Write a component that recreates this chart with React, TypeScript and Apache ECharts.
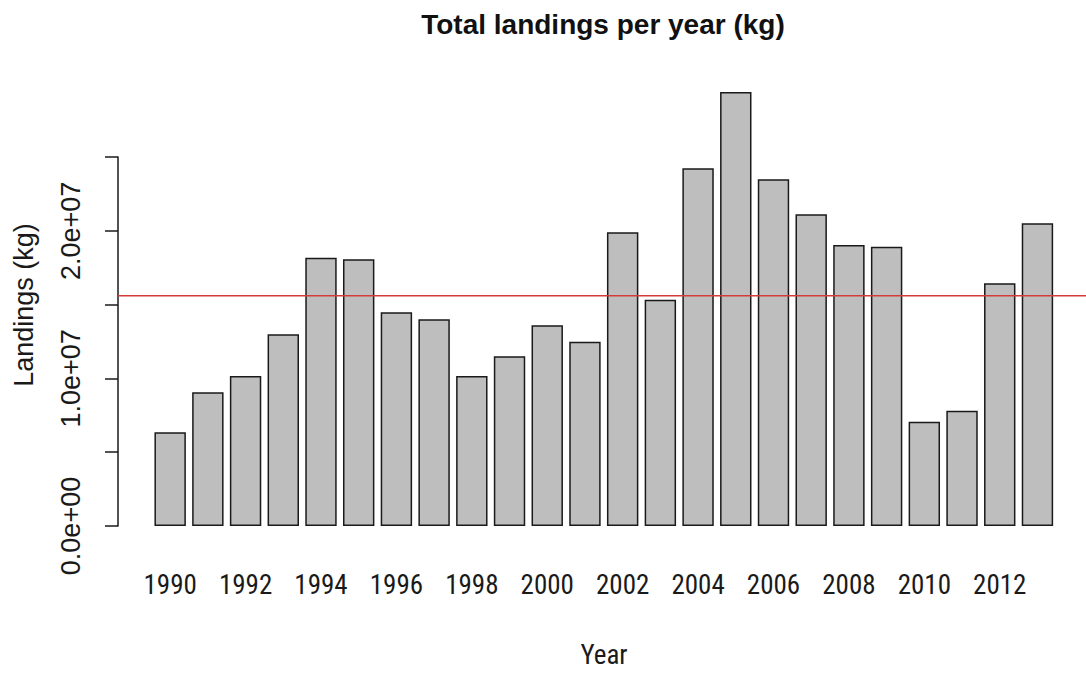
import React, { useEffect, useRef } from "react";
import * as echarts from "echarts";

// ---- data ----
const years = [
  "1990", "1991", "1992", "1993", "1994", "1995", "1996", "1997",
  "1998", "1999", "2000", "2001", "2002", "2003", "2004", "2005",
  "2006", "2007", "2008", "2009", "2010", "2011", "2012", "2013",
];
const landings = [
  6.35e6, 9.06e6, 10.16e6, 12.99e6, 18.18e6, 18.07e6, 14.48e6, 14.0e6,
  10.16e6, 11.5e6, 13.6e6, 12.49e6, 19.9e6, 15.33e6, 24.23e6, 29.4e6,
  23.49e6, 21.12e6, 19.04e6, 18.92e6, 7.07e6, 7.81e6, 16.44e6, 20.51e6,
];
const yTickValues = [0, 5e6, 1e7, 1.5e7, 2e7, 2.5e7];
const yTickLabels = ["0.0e+00", "", "1.0e+07", "", "2.0e+07", ""];

const titleText = "Total landings per year (kg)";
const xName = "Year";
const yName = "Landings (kg)";

const meanLanding = landings.reduce((a, b) => a + b, 0) / landings.length;

const NARROW = '"Liberation Sans Narrow", "Arial Narrow", "Roboto Condensed", "Liberation Sans", Arial, sans-serif';
const SANS = '"Liberation Sans", Arial, sans-serif';

export default function App() {
  const ref = useRef<HTMLDivElement>(null);

  useEffect(() => {
    if (!ref.current) return;
    const chart = echarts.init(ref.current, undefined, { renderer: "svg" });
    const option = {
      animation: false,
      backgroundColor: "#ffffff",
      grid: [
        // bars
        { left: 151.3, right: 29.7, top: 83.2, bottom: 147, containLabel: false },
        // axis + mean line
        { left: 118, right: 0, top: 157, bottom: 147, containLabel: false },
      ],
      xAxis: [
        {
          gridIndex: 0,
          type: "category",
          data: years,
          axisLine: { show: false },
          axisTick: { show: false },
          axisLabel: {
            interval: 1,
            margin: 45,
            color: "#1a1a1a",
            fontSize: 27,
            fontFamily: NARROW,
          },
        },
        {
          gridIndex: 1,
          type: "value",
          min: 0,
          max: 1,
          show: false,
        },
      ],
      yAxis: [
        {
          gridIndex: 0,
          type: "value",
          min: 0,
          max: 3e7,
          show: false,
          splitLine: { show: false },
        },
        {
          gridIndex: 1,
          type: "value",
          min: 0,
          max: 2.5e7,
          interval: 5e6,
          axisLine: { show: true, lineStyle: { color: "#1a1a1a", width: 1.5 } },
          axisTick: { show: true, length: 13, lineStyle: { color: "#1a1a1a", width: 1.5 } },
          splitLine: { show: false },
          axisLabel: {
            rotate: 90,
            margin: 34,
            color: "#1a1a1a",
            fontSize: 27,
            fontFamily: SANS,
            formatter: (v: number) => {
              const i = yTickValues.findIndex((t) => Math.abs(t - v) < 1);
              return i >= 0 ? yTickLabels[i] : "";
            },
          },
        },
      ],
      series: [
        {
          type: "bar",
          xAxisIndex: 0,
          yAxisIndex: 0,
          data: landings,
          barCategoryGap: "16.7%",
          itemStyle: { color: "#bebebe", borderColor: "#1a1a1a", borderWidth: 1.5 },
          silent: true,
          z: 2,
        },
        {
          type: "line",
          xAxisIndex: 1,
          yAxisIndex: 1,
          data: [
            [0, meanLanding],
            [1, meanLanding],
          ],
          symbol: "none",
          lineStyle: { color: "#d23c3c", width: 1.5 },
          silent: true,
          z: 5,
        },
      ],
      graphic: [
        {
          type: "text",
          x: 603,
          y: 24,
          style: {
            text: titleText,
            fill: "#111",
            fontSize: 28,
            fontWeight: "bold",
            fontFamily: SANS,
            align: "center",
            verticalAlign: "middle",
          },
        },
        {
          type: "text",
          x: 604,
          y: 655,
          style: {
            text: xName,
            fill: "#1a1a1a",
            fontSize: 27,
            fontFamily: NARROW,
            align: "center",
            verticalAlign: "middle",
          },
        },
        {
          type: "text",
          x: 24,
          y: 305,
          rotation: Math.PI / 2,
          style: {
            text: yName,
            fill: "#1a1a1a",
            fontSize: 27,
            fontFamily: SANS,
            align: "center",
            verticalAlign: "middle",
          },
        },
      ],
    };
    chart.setOption(option);
    return () => chart.dispose();
  }, []);

  return (
    <div
      ref={ref}
      style={{ position: "fixed", left: 0, top: 0, width: 1086, height: 673, background: "#fff" }}
    />
  );
}
